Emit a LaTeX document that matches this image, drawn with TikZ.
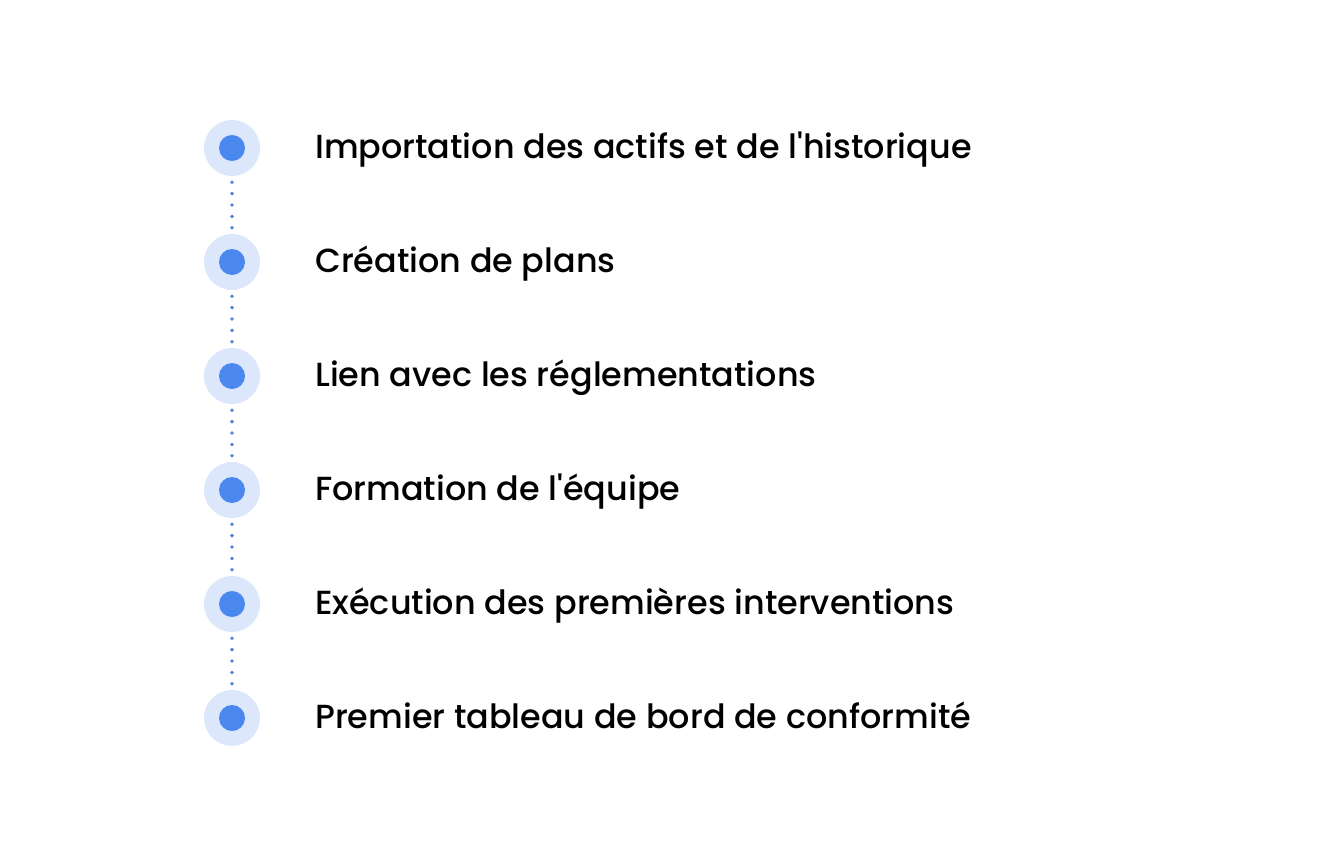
\documentclass[tikz,border=0pt]{standalone}
\usepackage{fontspec}
\setmainfont{Poppins}[UprightFont={* Medium}]
\usetikzlibrary{positioning}
\definecolor{ringblue}{HTML}{DCE7FB}
\definecolor{dotblue}{HTML}{4A88EF}
\definecolor{lineblue}{HTML}{4C80D8}
\tikzset{
    ring/.style={circle, fill=ringblue, minimum size=56pt, inner sep=0pt},
    core/.style={circle, fill=dotblue, minimum size=26pt, inner sep=0pt},
    steptext/.style={anchor=base west, inner sep=0pt, font=\fontsize{33.4}{40}\selectfont},
    link/.style={lineblue, line width=3.8pt, line cap=round, dash pattern=on 0pt off 11.4pt, shorten <=6pt, shorten >=6pt}
}
\begin{document}
\begin{tikzpicture}[x=1pt,y=-1pt]
        \useasboundingbox (0,0) rectangle (1330,864);
        % Rings
        \node[ring] (r1) at (232,148) {};
        \node[ring] (r2) at (232,262) {};
        \node[ring] (r3) at (232,376) {};
        \node[ring] (r4) at (232,490) {};
        \node[ring] (r5) at (232,604) {};
        \node[ring] (r6) at (232,718) {};
        % Inner dots
        \node[core] (c1) at (r1) {};
        \node[core] (c2) at (r2) {};
        \node[core] (c3) at (r3) {};
        \node[core] (c4) at (r4) {};
        \node[core] (c5) at (r5) {};
        \node[core] (c6) at (r6) {};
        % Dotted links
        \draw[link] (r1.south) -- (r2.north);
        \draw[link] (r2.south) -- (r3.north);
        \draw[link] (r3.south) -- (r4.north);
        \draw[link] (r4.south) -- (r5.north);
        \draw[link] (r5.south) -- (r6.north);
        % Labels
        \node[steptext] (t1) at (315,158.5) {Importation des actifs et de l\textquotesingle historique};
        \node[steptext] (t2) at (315,272.5) {Création de plans};
        \node[steptext] (t3) at (315,386.5) {Lien avec les réglementations};
        \node[steptext] (t4) at (315,500.5) {Formation de l\textquotesingle équipe};
        \node[steptext] (t5) at (315,614.5) {Exécution des premières interventions};
        \node[steptext] (t6) at (315,728.5) {Premier tableau de bord de conformité};
\end{tikzpicture}
\end{document}
